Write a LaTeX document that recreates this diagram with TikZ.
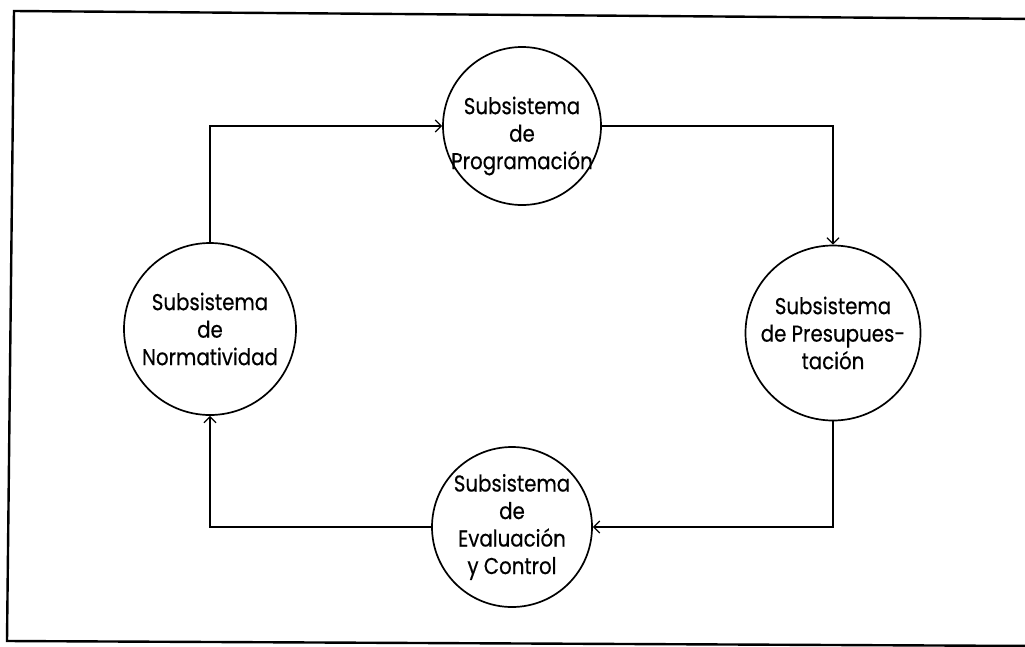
\documentclass[tikz,border=0pt]{standalone}
\usepackage{fontspec}
\setmainfont{Poppins}
\newfontfamily\subfont{Poppins}[FakeStretch=0.86, FakeBold=0.4]
\usetikzlibrary{arrows.meta}
\begin{document}
\begin{tikzpicture}[x=1pt,y=-1pt,
  sub/.style={draw, circle, line width=1.7pt, inner sep=0pt},
  lbl/.style={align=center, font=\subfont\fontsize{23}{27.5}\selectfont},
  flow/.style={line width=1.5pt, -{Straight Barb[length=6pt,width=12pt,line width=1.3pt]}},
  frameline/.style={line width=2.4pt}]
\useasboundingbox (0,0) rectangle (1025,646);
\clip (0,0) rectangle (1025,646);

% outer frame (its right side runs off the page)
\draw[frameline] (1040,19) -- (14,11) -- (7,641) -- (1040,646);

% the four subsystems
\node[sub, minimum size=158pt] (prog) at (522,126) {};
\node[lbl] at ([yshift=-10pt]prog.center) {Subsistema\\de\\Programación};

\node[sub, minimum size=172pt] (norm) at (210,329)
  [lbl] {Subsistema\\de\\Normatividad};

\node[sub, minimum size=175pt] (pres) at (833,333)
  [lbl] {Subsistema\\de Presupues-\\tación};

\node[sub, minimum size=160pt] (eval) at (512,527)
  [lbl] {Subsistema\\de\\Evaluación\\y Control};

% cycle of connectors
\draw[flow] (norm.north) |- (prog.west);
\draw[flow] (prog.east) -| (pres.north);
\draw[flow] (pres.south) |- (eval.east);
\draw[flow] (eval.west) -| (norm.south);
\end{tikzpicture}
\end{document}
